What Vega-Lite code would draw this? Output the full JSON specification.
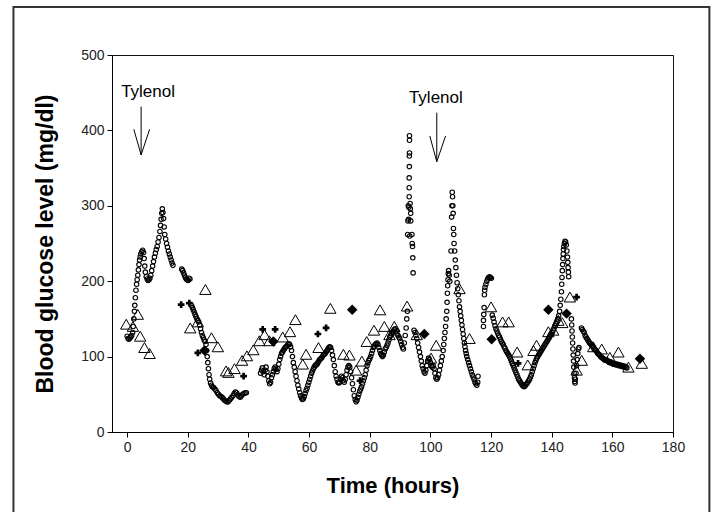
{
"$schema":"https://vega.github.io/schema/vega-lite/v6.json",
"width":561,"height":377,
"autosize":{"type":"none"},
"padding":{"left":112,"top":55,"right":39,"bottom":80},
"background":"white",
"config":{"view":{"stroke":"#111","strokeWidth":1},"font":"Liberation Sans"},
"datasets":{
"cgm":[
{"t":0,"g":127},{"t":0.3,"g":124},{"t":0.6,"g":123},{"t":0.9,"g":125},{"t":1.2,"g":126},{"t":1.5,"g":128},{"t":1.8,"g":132},{"t":2.0,"g":140},{"t":2.2,"g":150},{"t":2.4,"g":160},{"t":2.5,"g":168},{"t":2.7,"g":178},{"t":2.9,"g":188},{"t":3.1,"g":196},{"t":3.3,"g":202},{"t":3.5,"g":208},{"t":3.7,"g":215},{"t":3.9,"g":222},{"t":4.1,"g":228},{"t":4.3,"g":232},{"t":4.5,"g":236},{"t":4.8,"g":239},{"t":5.1,"g":241},{"t":5.4,"g":238},{"t":5.6,"g":230},{"t":5.8,"g":220},{"t":6.0,"g":212},{"t":6.3,"g":206},{"t":6.6,"g":203},{"t":6.9,"g":201},{"t":7.2,"g":202},{"t":7.5,"g":204},{"t":7.8,"g":208},{"t":8.1,"g":214},{"t":8.4,"g":220},{"t":8.7,"g":226},{"t":9.0,"g":232},{"t":9.3,"g":237},{"t":9.6,"g":242},{"t":9.9,"g":246},{"t":10.2,"g":252},{"t":10.5,"g":258},{"t":10.8,"g":266},{"t":11.0,"g":274},{"t":11.2,"g":282},{"t":11.4,"g":290},{"t":11.6,"g":296},{"t":11.8,"g":291},{"t":12.0,"g":283},{"t":12.2,"g":272},{"t":12.4,"g":262},{"t":12.7,"g":256},{"t":13.0,"g":250},{"t":13.3,"g":245},{"t":13.6,"g":240},{"t":13.9,"g":236},{"t":14.2,"g":232},{"t":14.5,"g":228},{"t":14.8,"g":224},{"t":15.1,"g":221},
{"t":18.0,"g":216},{"t":18.3,"g":214},{"t":18.6,"g":211},{"t":18.9,"g":208},{"t":19.2,"g":205},{"t":19.5,"g":203},{"t":19.8,"g":202},{"t":20.1,"g":201},{"t":20.4,"g":204},{"t":20.7,"g":203},
{"t":21.2,"g":168},{"t":21.5,"g":165},{"t":21.8,"g":162},{"t":22.1,"g":159},{"t":22.4,"g":156},{"t":22.7,"g":153},{"t":23.0,"g":150},{"t":23.3,"g":148},{"t":23.6,"g":146},{"t":23.9,"g":142},{"t":24.2,"g":137},{"t":24.5,"g":132},{"t":24.8,"g":128},{"t":25.1,"g":125},{"t":25.4,"g":122},{"t":25.7,"g":120},{"t":26.0,"g":116},{"t":26.2,"g":108},{"t":26.4,"g":100},{"t":26.6,"g":92},{"t":26.8,"g":84},{"t":27.0,"g":76},{"t":27.2,"g":70},{"t":27.5,"g":65},{"t":27.8,"g":62},{"t":28.1,"g":60},{"t":28.5,"g":59},{"t":28.9,"g":57},{"t":29.3,"g":55},{"t":29.7,"g":52},{"t":30.1,"g":50},{"t":30.5,"g":48},{"t":30.9,"g":47},{"t":31.3,"g":46},{"t":31.7,"g":44},{"t":32.1,"g":42},{"t":32.5,"g":41},{"t":32.9,"g":40},{"t":33.3,"g":40},{"t":33.7,"g":42},{"t":34.1,"g":44},{"t":34.5,"g":46},{"t":34.9,"g":48},{"t":35.3,"g":51},{"t":35.7,"g":53},{"t":36.1,"g":52},{"t":36.5,"g":49},{"t":36.9,"g":47},{"t":37.3,"g":46},{"t":37.7,"g":48},{"t":38.1,"g":50},{"t":38.5,"g":51},{"t":38.9,"g":52},{"t":39.3,"g":52},
{"t":44.0,"g":78},{"t":44.3,"g":82},{"t":44.6,"g":85},{"t":44.9,"g":80},{"t":45.2,"g":76},{"t":45.5,"g":82},{"t":45.8,"g":86},{"t":46.1,"g":80},{"t":46.4,"g":74},{"t":46.7,"g":68},{"t":47.0,"g":64},{"t":47.3,"g":66},{"t":47.6,"g":72},{"t":47.9,"g":76},{"t":48.2,"g":80},{"t":48.5,"g":84},{"t":48.8,"g":86},{"t":49.1,"g":83},{"t":49.4,"g":80},{"t":49.7,"g":84},{"t":50.0,"g":90},{"t":50.3,"g":96},{"t":50.6,"g":100},{"t":50.9,"g":104},{"t":51.2,"g":106},{"t":51.5,"g":108},{"t":51.8,"g":110},{"t":52.1,"g":112},{"t":52.4,"g":113},{"t":52.7,"g":114},{"t":53.0,"g":116},{"t":53.3,"g":117},{"t":53.6,"g":116},{"t":53.9,"g":113},{"t":54.2,"g":108},{"t":54.5,"g":100},{"t":54.8,"g":92},{"t":55.1,"g":86},{"t":55.4,"g":80},{"t":55.7,"g":74},{"t":56.0,"g":68},{"t":56.3,"g":62},{"t":56.6,"g":57},{"t":56.9,"g":52},{"t":57.2,"g":48},{"t":57.5,"g":45},{"t":57.8,"g":43},{"t":58.1,"g":44},{"t":58.4,"g":47},{"t":58.7,"g":51},{"t":59.0,"g":55},{"t":59.3,"g":58},{"t":59.6,"g":62},{"t":59.9,"g":66},{"t":60.2,"g":70},{"t":60.5,"g":74},{"t":60.8,"g":78},{"t":61.1,"g":81},{"t":61.4,"g":84},{"t":61.7,"g":86},{"t":62.0,"g":88},{"t":62.3,"g":89},{"t":62.6,"g":90},{"t":62.9,"g":92},{"t":63.2,"g":94},{"t":63.5,"g":96},{"t":63.8,"g":97},{"t":64.1,"g":98},{"t":64.4,"g":100},{"t":64.7,"g":102},{"t":65.0,"g":103},{"t":65.3,"g":104},{"t":65.6,"g":106},{"t":65.9,"g":108},{"t":66.2,"g":110},{"t":66.5,"g":112},{"t":66.8,"g":113},{"t":67.1,"g":112},{"t":67.4,"g":108},{"t":67.7,"g":102},{"t":68.0,"g":96},{"t":68.3,"g":88},{"t":68.6,"g":80},{"t":68.9,"g":74},{"t":69.2,"g":70},{"t":69.5,"g":66},{"t":69.8,"g":65},{"t":70.1,"g":66},{"t":70.4,"g":70},{"t":70.7,"g":74},{"t":71.0,"g":72},{"t":71.3,"g":68},{"t":71.6,"g":66},{"t":71.9,"g":70},{"t":72.2,"g":76},{"t":72.5,"g":82},{"t":72.8,"g":86},{"t":73.1,"g":88},{"t":73.4,"g":86},{"t":73.7,"g":80},{"t":74.0,"g":72},{"t":74.3,"g":64},{"t":74.6,"g":56},{"t":74.9,"g":48},{"t":75.2,"g":43},{"t":75.5,"g":40},{"t":75.8,"g":42},{"t":76.1,"g":46},{"t":76.4,"g":50},{"t":76.7,"g":54},{"t":77.0,"g":57},{"t":77.3,"g":60},{"t":77.6,"g":64},{"t":77.9,"g":68},{"t":78.2,"g":72},{"t":78.5,"g":76},{"t":78.8,"g":82},{"t":79.1,"g":88},{"t":79.4,"g":92},{"t":79.7,"g":95},{"t":80.0,"g":97},{"t":80.3,"g":100},{"t":80.6,"g":104},{"t":80.9,"g":108},{"t":81.2,"g":112},{"t":81.5,"g":114},{"t":81.8,"g":116},{"t":82.1,"g":117},{"t":82.4,"g":118},{"t":82.7,"g":116},{"t":83.0,"g":112},{"t":83.3,"g":108},{"t":83.6,"g":104},{"t":83.9,"g":102},{"t":84.2,"g":100},{"t":84.5,"g":102},{"t":84.8,"g":106},{"t":85.1,"g":110},{"t":85.4,"g":112},{"t":85.7,"g":115},{"t":86.0,"g":118},{"t":86.3,"g":122},{"t":86.6,"g":126},{"t":86.9,"g":128},{"t":87.2,"g":130},{"t":87.5,"g":132},{"t":87.8,"g":134},{"t":88.1,"g":136},{"t":88.4,"g":137},{"t":88.7,"g":134},{"t":89.0,"g":130},{"t":89.3,"g":128},{"t":89.6,"g":126},{"t":89.9,"g":124},{"t":90.2,"g":120},{"t":90.5,"g":116},{"t":90.8,"g":112},{"t":91.1,"g":110},{"t":91.4,"g":118},{"t":91.7,"g":128},{"t":92.0,"g":138},{"t":92.2,"g":150},{"t":92.4,"g":160},
{"t":92.5,"g":262},{"t":92.6,"g":280},{"t":92.7,"g":300},{"t":92.8,"g":282},{"t":92.9,"g":298},{"t":93.0,"g":312},{"t":93.0,"g":324},{"t":93.0,"g":337},{"t":93.05,"g":352},{"t":93.05,"g":366},{"t":93.1,"g":370},{"t":93.1,"g":387},{"t":93.1,"g":393},{"t":93.3,"g":303},{"t":93.4,"g":296},{"t":93.5,"g":290},{"t":93.5,"g":280},{"t":93.2,"g":260},{"t":93.9,"g":262},{"t":94.0,"g":250},{"t":94.1,"g":246},{"t":94.2,"g":231},{"t":94.3,"g":211},
{"t":94.6,"g":135},{"t":94.9,"g":132},{"t":95.2,"g":128},{"t":95.5,"g":124},{"t":95.8,"g":118},{"t":96.1,"g":112},{"t":96.4,"g":106},{"t":96.7,"g":100},{"t":97.0,"g":94},{"t":97.3,"g":88},{"t":97.6,"g":84},{"t":97.9,"g":80},{"t":98.2,"g":78},{"t":98.5,"g":82},{"t":98.8,"g":88},{"t":99.1,"g":94},{"t":99.4,"g":98},{"t":99.7,"g":96},{"t":100.0,"g":92},{"t":100.3,"g":88},{"t":100.6,"g":86},{"t":100.9,"g":88},{"t":101.2,"g":84},{"t":101.5,"g":78},{"t":101.8,"g":72},{"t":102.1,"g":70},{"t":102.4,"g":72},{"t":102.7,"g":76},{"t":103.0,"g":82},{"t":103.3,"g":88},{"t":103.6,"g":94},{"t":103.9,"g":100},{"t":104.2,"g":108},{"t":104.4,"g":116},{"t":104.6,"g":124},{"t":104.8,"g":132},{"t":105.0,"g":140},{"t":105.2,"g":150},{"t":105.4,"g":160},{"t":105.5,"g":172},{"t":105.6,"g":184},{"t":105.7,"g":194},{"t":105.8,"g":202},{"t":105.9,"g":210},{"t":106.0,"g":214},{"t":106.2,"g":208},{"t":106.4,"g":200},
{"t":106.8,"g":240},{"t":107.0,"g":285},{"t":107.1,"g":300},{"t":107.2,"g":318},{"t":107.3,"g":312},{"t":107.4,"g":300},{"t":107.5,"g":290},{"t":107.6,"g":270},{"t":107.7,"g":262},{"t":107.8,"g":250},{"t":108.0,"g":240},{"t":108.2,"g":228},{"t":108.4,"g":218},{"t":108.6,"g":208},{"t":108.8,"g":198},{"t":109.0,"g":190},{"t":109.2,"g":182},{"t":109.4,"g":174},{"t":109.6,"g":166},{"t":109.8,"g":160},{"t":110.0,"g":154},{"t":110.2,"g":148},{"t":110.4,"g":142},{"t":110.6,"g":136},{"t":110.8,"g":130},{"t":111.0,"g":124},{"t":111.2,"g":118},{"t":111.4,"g":113},{"t":111.6,"g":108},{"t":111.8,"g":104},{"t":112.0,"g":100},{"t":112.3,"g":96},{"t":112.6,"g":92},{"t":112.9,"g":88},{"t":113.2,"g":84},{"t":113.5,"g":80},{"t":113.8,"g":76},{"t":114.1,"g":73},{"t":114.4,"g":70},{"t":114.7,"g":66},{"t":115.0,"g":64},{"t":115.3,"g":62},{"t":115.6,"g":66},{"t":115.7,"g":74},
{"t":117.5,"g":140},{"t":117.5,"g":148},{"t":117.6,"g":156},{"t":117.7,"g":165},{"t":117.8,"g":182},{"t":117.9,"g":188},{"t":118.0,"g":192},{"t":118.3,"g":196},{"t":118.6,"g":200},{"t":118.9,"g":203},{"t":119.2,"g":205},{"t":119.5,"g":206},{"t":119.8,"g":205},{"t":120.1,"g":204},
{"t":120.4,"g":155},{"t":120.7,"g":151},{"t":121.0,"g":146},{"t":121.3,"g":141},{"t":121.6,"g":137},{"t":121.9,"g":134},{"t":122.2,"g":131},{"t":122.5,"g":128},{"t":122.8,"g":126},{"t":123.1,"g":123},{"t":123.4,"g":120},{"t":123.7,"g":118},{"t":124.0,"g":116},{"t":124.3,"g":113},{"t":124.6,"g":111},{"t":124.9,"g":108},{"t":125.2,"g":106},{"t":125.5,"g":104},{"t":125.8,"g":102},{"t":126.1,"g":100},{"t":126.4,"g":97},{"t":126.7,"g":94},{"t":127.0,"g":91},{"t":127.3,"g":88},{"t":127.6,"g":85},{"t":127.9,"g":82},{"t":128.2,"g":79},{"t":128.5,"g":76},{"t":128.8,"g":73},{"t":129.1,"g":70},{"t":129.4,"g":68},{"t":129.7,"g":66},{"t":130.0,"g":64},{"t":130.3,"g":62},{"t":130.6,"g":61},{"t":130.9,"g":60},{"t":131.2,"g":61},{"t":131.5,"g":63},{"t":131.8,"g":64},{"t":132.1,"g":66},{"t":132.4,"g":68},{"t":132.7,"g":70},{"t":133.0,"g":73},{"t":133.3,"g":76},{"t":133.6,"g":80},{"t":133.9,"g":84},{"t":134.2,"g":88},{"t":134.5,"g":92},{"t":134.8,"g":95},{"t":135.1,"g":98},{"t":135.4,"g":100},{"t":135.7,"g":102},{"t":136.0,"g":104},{"t":136.3,"g":106},{"t":136.6,"g":108},{"t":136.9,"g":110},{"t":137.2,"g":112},{"t":137.5,"g":114},{"t":137.8,"g":116},{"t":138.1,"g":118},{"t":138.4,"g":120},{"t":138.7,"g":122},{"t":139.0,"g":124},{"t":139.3,"g":126},{"t":139.6,"g":128},{"t":139.9,"g":130},{"t":140.2,"g":132},{"t":140.5,"g":135},{"t":140.8,"g":138},{"t":141.1,"g":141},{"t":141.4,"g":144},{"t":141.7,"g":147},{"t":142.0,"g":150},{"t":142.3,"g":154},{"t":142.6,"g":160},{"t":142.8,"g":168},{"t":143.0,"g":176},{"t":143.2,"g":186},{"t":143.3,"g":196},{"t":143.4,"g":205},{"t":143.5,"g":214},{"t":143.6,"g":222},{"t":143.7,"g":230},{"t":143.8,"g":236},{"t":143.9,"g":242},{"t":144.0,"g":246},{"t":144.2,"g":250},{"t":144.4,"g":253},{"t":144.6,"g":252},{"t":144.8,"g":248},{"t":145.0,"g":240},{"t":145.2,"g":232},{"t":145.3,"g":225},{"t":145.4,"g":218},{"t":145.5,"g":212},{"t":145.6,"g":206},
{"t":146.5,"g":150},{"t":146.6,"g":142},{"t":146.7,"g":134},{"t":146.8,"g":126},{"t":146.9,"g":118},{"t":147.0,"g":110},{"t":147.1,"g":102},{"t":147.2,"g":94},{"t":147.3,"g":86},{"t":147.4,"g":78},{"t":147.5,"g":72},{"t":147.6,"g":67},{"t":147.7,"g":65},{"t":147.8,"g":70},{"t":148.0,"g":78},{"t":148.2,"g":88},{"t":148.4,"g":96},{"t":148.6,"g":104},{"t":148.8,"g":110},{"t":149.0,"g":112},
{"t":149.8,"g":138},{"t":150.1,"g":136},{"t":150.4,"g":134},{"t":150.7,"g":132},{"t":151.0,"g":128},{"t":151.3,"g":126},{"t":151.6,"g":124},{"t":151.9,"g":122},{"t":152.2,"g":120},{"t":152.5,"g":118},{"t":152.8,"g":117},{"t":153.1,"g":115},{"t":153.4,"g":114},{"t":153.7,"g":112},{"t":154.0,"g":110},{"t":154.3,"g":109},{"t":154.6,"g":108},{"t":154.9,"g":106},{"t":155.2,"g":104},{"t":155.5,"g":103},{"t":155.8,"g":102},{"t":156.1,"g":100},{"t":156.4,"g":99},{"t":156.7,"g":98},{"t":157.0,"g":97},{"t":157.3,"g":96},{"t":157.6,"g":95},{"t":157.9,"g":96},{"t":158.2,"g":95},{"t":158.5,"g":94},{"t":158.8,"g":93},{"t":159.1,"g":92},{"t":159.4,"g":93},{"t":159.7,"g":92},{"t":160.0,"g":91},{"t":160.3,"g":90},{"t":160.6,"g":91},{"t":160.9,"g":90},{"t":161.2,"g":89},{"t":161.5,"g":90},{"t":161.8,"g":89},{"t":162.1,"g":88},{"t":162.4,"g":89},{"t":162.7,"g":88},{"t":163.0,"g":87},{"t":163.3,"g":88},{"t":163.6,"g":87},{"t":163.9,"g":86},{"t":164.2,"g":87},{"t":164.5,"g":86},{"t":164.8,"g":85}
],
"tri":[
{"t":-0.3,"g":143},{"t":1.9,"g":140},{"t":3.5,"g":156},{"t":4.3,"g":127},{"t":5.7,"g":112},{"t":7.4,"g":104},{"t":20.8,"g":138},{"t":23.3,"g":146},{"t":25.8,"g":189},{"t":27.8,"g":125},{"t":29.9,"g":113},{"t":32.6,"g":81},{"t":33.4,"g":79},{"t":35.4,"g":84},{"t":37.9,"g":95},{"t":39.5,"g":101},{"t":41.6,"g":109},{"t":43.6,"g":121},{"t":45.3,"g":129},{"t":46.9,"g":121},{"t":51.3,"g":126},{"t":53.7,"g":133},{"t":55.5,"g":149},{"t":57.9,"g":90},{"t":59.0,"g":103},{"t":63.1,"g":112},{"t":67.0,"g":164},{"t":71.3,"g":103},{"t":73.3,"g":102},{"t":75.5,"g":82},{"t":77.4,"g":94},{"t":79.0,"g":120},{"t":81.4,"g":135},{"t":83.4,"g":162},{"t":84.8,"g":140},{"t":86.5,"g":129},{"t":88.1,"g":140},{"t":92.3,"g":167},{"t":95.5,"g":129},{"t":100.2,"g":98},{"t":101.9,"g":115},{"t":109.6,"g":190},{"t":112.9,"g":124},{"t":120.0,"g":166},{"t":123.8,"g":146},{"t":125.8,"g":146},{"t":128.6,"g":106},{"t":132.1,"g":89},{"t":134.0,"g":108},{"t":135.0,"g":115},{"t":138.9,"g":133},{"t":140.5,"g":135},{"t":142.2,"g":148},{"t":143.5,"g":145},{"t":146.0,"g":179},{"t":148.2,"g":82},{"t":149.9,"g":95},{"t":153.7,"g":113},{"t":156.5,"g":110},{"t":159.2,"g":99},{"t":162.0,"g":106},{"t":165.3,"g":86},{"t":169.7,"g":91}
],
"plus":[
{"t":17.8,"g":169},{"t":20.5,"g":171},{"t":23.3,"g":105},{"t":38.4,"g":74},{"t":44.7,"g":136},{"t":48.8,"g":136},{"t":62.9,"g":130},{"t":65.6,"g":138},{"t":76.8,"g":68},{"t":128.9,"g":91},{"t":148.2,"g":179}
],
"dia":[
{"t":25.5,"g":108},{"t":48.2,"g":120},{"t":74.2,"g":162},{"t":98.0,"g":130},{"t":120.2,"g":123},{"t":138.9,"g":162},{"t":144.9,"g":157},{"t":169.1,"g":97}
],
"arrows":[
{"t":4.6,"g":431.5,"t2":4.6,"g2":367.4},{"t":2.2,"g":401.5,"t2":4.6,"g2":367.4},{"t":7.4,"g":401.5,"t2":4.6,"g2":367.4},
{"t":102.1,"g":423.5,"t2":102.1,"g2":358.5},{"t":99.8,"g":392.6,"t2":102.1,"g2":358.5},{"t":105.0,"g":392.6,"t2":102.1,"g2":358.5}
],
"notes":[
{"t":6.9,"g":444,"label":"Tylenol"},{"t":101.8,"g":436.8,"label":"Tylenol"}
]
},
"layer":[
{"data":{"name":"cgm"},
 "mark":{"type":"point","shape":"circle","filled":false,"stroke":"#000","strokeWidth":1.1,"size":20,"opacity":1},
 "encoding":{
  "x":{"field":"t","type":"quantitative","scale":{"domain":[-5,180],"nice":false,"zero":false},
   "axis":{"title":"Time (hours)","values":[0,10,20,30,40,50,60,70,80,90,100,110,120,130,140,150,160,170,180],
    "labelExpr":"datum.value % 20 === 0 ? datum.label : ''","grid":false,"tickSize":5,"domainColor":"#000","tickColor":"#000",
    "labelFontSize":14,"labelColor":"#222","labelFont":"Liberation Sans","labelPadding":3,"labelOverlap":false,"labelFlush":false,
    "titleFontSize":22,"titleFontWeight":"bold","titleFont":"Liberation Sans","titleColor":"#000","titlePadding":21}},
  "y":{"field":"g","type":"quantitative","scale":{"domain":[0,500],"nice":false,"zero":false},
   "axis":{"title":"Blood glucose level (mg/dl)","values":[0,50,100,150,200,250,300,350,400,450,500],
    "labelExpr":"datum.value % 100 === 0 ? datum.label : ''","grid":false,"tickSize":5,"domainColor":"#000","tickColor":"#000",
    "labelFontSize":14,"labelColor":"#222","labelFont":"Liberation Sans","labelPadding":3,"labelOverlap":false,"labelFlush":false,
    "titleFontSize":23,"titleFontWeight":"bold","titleFont":"Liberation Sans","titleColor":"#000","titlePadding":23}}}},
{"data":{"values":[{}]},
 "mark":{"type":"rect","fill":null,"stroke":"#333","strokeWidth":2,"clip":false},
 "encoding":{
  "x":{"datum":-37.5,"type":"quantitative","scale":{"domain":[-5,180],"nice":false,"zero":false}},
  "x2":{"datum":192},
  "y":{"datum":563.5,"type":"quantitative","scale":{"domain":[0,500],"nice":false,"zero":false}},
  "y2":{"datum":-115}}},
{"data":{"name":"tri"},
 "mark":{"type":"point","shape":"triangle-up","filled":false,"stroke":"#000","strokeWidth":1,"size":130,"opacity":1},
 "encoding":{"x":{"field":"t","type":"quantitative","scale":{"domain":[-5,180],"nice":false,"zero":false}},
  "y":{"field":"g","type":"quantitative","scale":{"domain":[0,500],"nice":false,"zero":false}}}},
{"data":{"name":"plus"},
 "mark":{"type":"point","shape":"cross","filled":true,"fill":"#000","size":45,"opacity":1},
 "encoding":{"x":{"field":"t","type":"quantitative","scale":{"domain":[-5,180],"nice":false,"zero":false}},
  "y":{"field":"g","type":"quantitative","scale":{"domain":[0,500],"nice":false,"zero":false}}}},
{"data":{"name":"dia"},
 "mark":{"type":"point","shape":"diamond","filled":true,"fill":"#000","size":110,"opacity":1},
 "encoding":{"x":{"field":"t","type":"quantitative","scale":{"domain":[-5,180],"nice":false,"zero":false}},
  "y":{"field":"g","type":"quantitative","scale":{"domain":[0,500],"nice":false,"zero":false}}}},
{"data":{"name":"arrows"},
 "mark":{"type":"rule","stroke":"#000","strokeWidth":1},
 "encoding":{"x":{"field":"t","type":"quantitative","scale":{"domain":[-5,180],"nice":false,"zero":false}},
  "x2":{"field":"t2"},
  "y":{"field":"g","type":"quantitative","scale":{"domain":[0,500],"nice":false,"zero":false}},
  "y2":{"field":"g2"}}},
{"data":{"name":"notes"},
 "mark":{"type":"text","font":"Liberation Sans","fontSize":17,"color":"#000","align":"center","baseline":"alphabetic"},
 "encoding":{"x":{"field":"t","type":"quantitative","scale":{"domain":[-5,180],"nice":false,"zero":false}},
  "y":{"field":"g","type":"quantitative","scale":{"domain":[0,500],"nice":false,"zero":false}},
  "text":{"field":"label"}}}
]
}
